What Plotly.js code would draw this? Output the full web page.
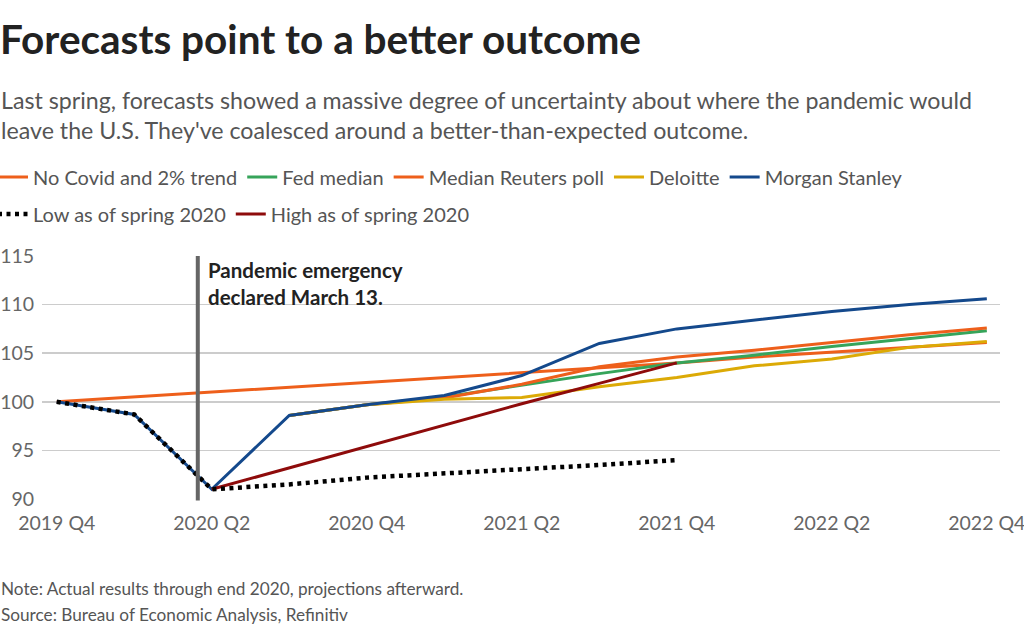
<!DOCTYPE html>
<html>
<head>
<meta charset="utf-8">
<script src="https://cdn.plot.ly/plotly-3.0.1.min.js"></script>
<style>
  html, body { margin: 0; padding: 0; background: #fff; }
  #chart { width: 1024px; height: 636px; }
</style>
</head>
<body>
<div id="chart"></div>
<script>
// ---- Data ----
const quarters = ["2019 Q4","2020 Q1","2020 Q2","2020 Q3","2020 Q4",
                  "2021 Q1","2021 Q2","2021 Q3","2021 Q4",
                  "2022 Q1","2022 Q2","2022 Q3","2022 Q4"];
const tickQuarters = ["2019 Q4","2020 Q2","2020 Q4","2021 Q2","2021 Q4","2022 Q2","2022 Q4"];
const yTicks = [90, 95, 100, 105, 110, 115];

const noCovidTrend   = [100, 100.5, 101.0, 101.5, 102.0, 102.5, 103.0, 103.5, 104.0, 104.6, 105.1, 105.6, 106.1];
const fedMedian      = [null, null, null, 98.6, 99.7, 100.5, 101.7, 102.9, 104.0, 104.8, 105.7, 106.5, 107.3];
const reutersPoll    = [null, null, null, 98.6, 99.7, 100.4, 101.8, 103.6, 104.6, 105.3, 106.1, 106.9, 107.6];
const deloitte       = [null, null, null, 98.6, 99.7, 100.25, 100.45, 101.55, 102.5, 103.7, 104.4, 105.6, 106.2];
const morganStanley  = [100, 98.7, 91.0, 98.6, 99.7, 100.65, 102.7, 106.0, 107.5, 108.4, 109.3, 110.0, 110.6];
const lowSpring2020  = [100, 98.7, 91.0, 91.5, 92.2, 92.6, 93.05, 93.5, 94.0, null, null, null, null];
const highSpring2020 = [null, null, 91.0, 93.2, 95.4, 97.6, 99.8, 101.9, 104.0, null, null, null, null];

const seriesNames = ["No Covid and 2% trend","Fed median","Median Reuters poll","Deloitte",
                     "Morgan Stanley","Low as of spring 2020","High as of spring 2020"];

const emergencyX = 1.82;   // March 13, 2020 position on the quarter axis
const emergencyText = "Pandemic emergency<br>declared March 13.";

// ---- Styling ----
const FONT = "'Source Sans Pro', Lato, 'Open Sans', sans-serif";
const ORANGE = "#ee5f1b", GREEN = "#36a45a", YELLOW = "#dcaa06",
      BLUE = "#14498c", DARKRED = "#8e0b0b", BLACK = "#000000";

function line(name, y, color, opts) {
  return Object.assign({
    type: "scatter", mode: "lines", name: name, x: quarters, y: y,
    line: { color: color, width: 3 }, connectgaps: false, hoverinfo: "skip"
  }, opts || {});
}

const traces = [
  line(seriesNames[0], noCovidTrend, ORANGE),
  line(seriesNames[1], fedMedian, GREEN),
  line(seriesNames[2], reutersPoll, ORANGE),
  line(seriesNames[3], deloitte, YELLOW),
  line(seriesNames[4], morganStanley, BLUE),
  line(seriesNames[6], highSpring2020, DARKRED, { legend: "legend2", legendrank: 2 }),
  line(seriesNames[5], lowSpring2020, BLACK, { legend: "legend2", legendrank: 1,
       line: { color: BLACK, width: 4.5, dash: "4px,4.5px" } })
];

// plot area: x 42..1000, y 256..499 (pixels)
const PL = 42, PR = 1000, PT = 256, PB = 499;
const px = p => (p - PL) / (PR - PL);
const py = p => (PB - p) / (PB - PT);

const legendCommon = {
  orientation: "h", xanchor: "left", yanchor: "middle",
  font: { family: FONT, size: 20, color: "#555" },
  bgcolor: "rgba(0,0,0,0)", itemwidth: 30, traceorder: "normal"
};

const annotations = [
  { text: "Last spring, forecasts showed a massive degree of uncertainty about where the pandemic would",
    x: px(-1), y: py(100), size: 23.2, color: "#555", ya: "middle" },
  { text: "leave the U.S. They've coalesced around a better-than-expected outcome.",
    x: px(-1), y: py(130), size: 23.2, color: "#555", ya: "middle" },
  { text: "<b>" + emergencyText + "</b>", x: px(206), y: py(256), size: 20.5, color: "#222", ya: "top" },
  { text: "Note: Actual results through end 2020, projections afterward.",
    x: px(-1), y: py(588), size: 17.2, color: "#555", ya: "middle" },
  { text: "Source: Bureau of Economic Analysis, Refinitiv",
    x: px(-1), y: py(614), size: 17.2, color: "#555", ya: "middle" }
].map(a => ({
  text: a.text, xref: "paper", yref: "paper", x: a.x, y: a.y,
  xanchor: "left", yanchor: a.ya, showarrow: false, align: "left",
  font: { family: FONT, size: a.size, color: a.color }
}));

const layout = {
  width: 1024, height: 636,
  margin: { l: PL, r: 1024 - PR, t: PT, b: 636 - PB, pad: 0, autoexpand: false },
  paper_bgcolor: "#fff", plot_bgcolor: "#fff",
  font: { family: FONT, color: "#555", size: 17 },
  title: {
    text: "<b>Forecasts point to a better outcome</b>",
    font: { family: FONT, size: 40.5, color: "#222" },
    xref: "container", x: 0, xanchor: "left",
    yref: "container", y: 1 - 40 / 636, yanchor: "middle",
    pad: { l: 0, t: 0, b: 0, r: 0 }
  },
  showlegend: true,
  legend: Object.assign({}, legendCommon, { x: px(-7), y: py(177) }),
  legend2: Object.assign({}, legendCommon, { x: px(-7), y: py(214) }),
  xaxis: {
    type: "category",
    categoryorder: "array", categoryarray: quarters,
    range: [-0.19, 12.17],
    tickvals: tickQuarters, ticktext: tickQuarters,
    showgrid: false, zeroline: false, showline: false,
    ticks: "outside", ticklen: 7, tickcolor: "rgba(0,0,0,0)",
    tickfont: { family: FONT, size: 19.5, color: "#666" },
    fixedrange: true
  },
  yaxis: {
    range: [90, 115],
    tickvals: yTicks,
    showgrid: true, gridcolor: "#cccccc", gridwidth: 1.5,
    zeroline: false, showline: false,
    ticks: "outside", ticklen: 3, tickcolor: "rgba(0,0,0,0)",
    tickfont: { family: FONT, size: 19.5, color: "#666" },
    fixedrange: true
  },
  shapes: [{
    type: "line", xref: "x", yref: "paper",
    x0: emergencyX, x1: emergencyX, y0: -0.006, y1: 1,
    line: { color: "#666", width: 4 }, layer: "above"
  }],
  annotations: annotations
};

Plotly.newPlot("chart", traces, layout, { displayModeBar: false, staticPlot: true });
</script>
</body>
</html>
